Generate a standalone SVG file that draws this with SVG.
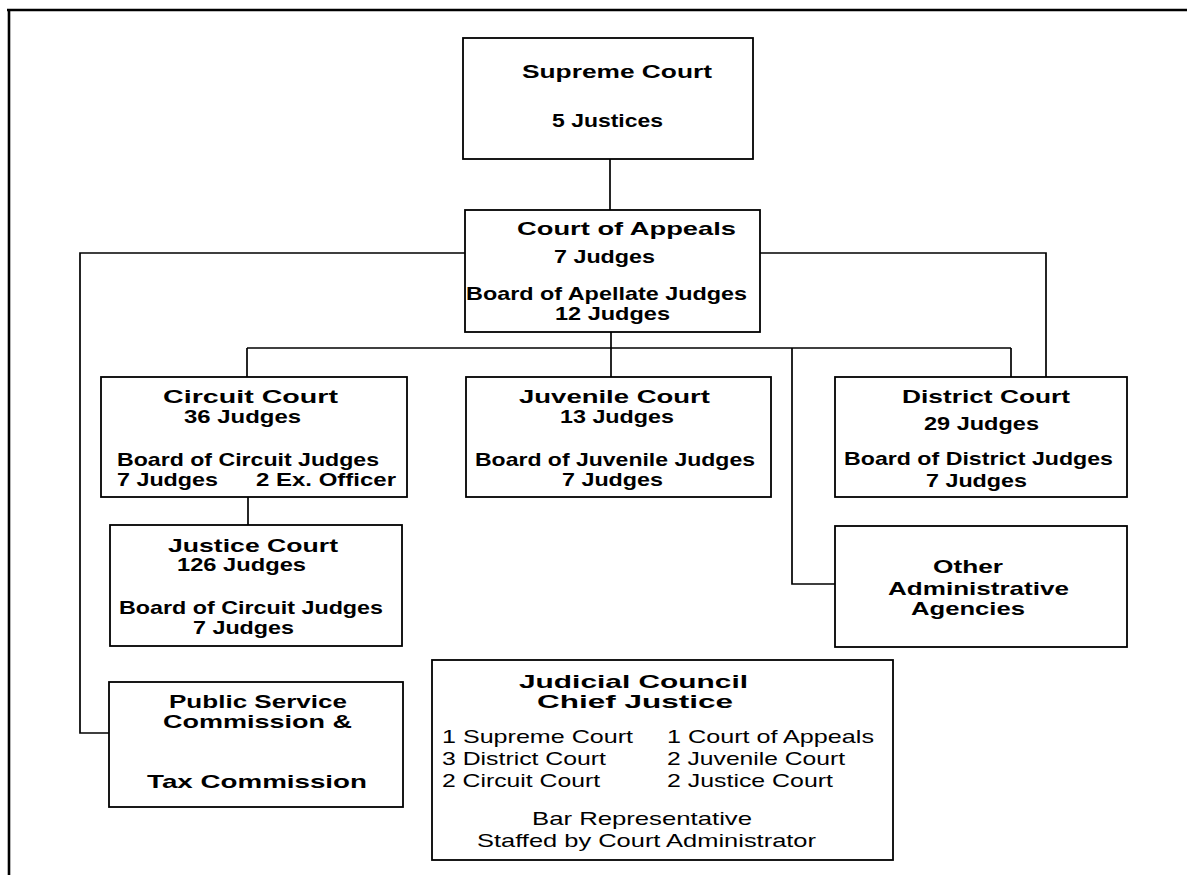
<svg xmlns="http://www.w3.org/2000/svg" width="1187" height="875" viewBox="0 0 1187 875">
<style>
  .box { fill: #ffffff; stroke: #000000; stroke-width: 1.8; }
  .conn { fill: none; stroke: #000000; stroke-width: 1.7; }
  text { font-family: "Liberation Sans", Arial, sans-serif; font-size: 19px; fill: #000000; }
  .b { font-weight: bold; }
</style>
<rect width="1187" height="875" fill="#ffffff"/>
<g id="frame">
  <line x1="7" y1="10" x2="1187" y2="10" stroke="#000" stroke-width="2.6"/>
  <line x1="9" y1="9" x2="9" y2="875" stroke="#000" stroke-width="2.6"/>
</g>
<g id="connectors">
  <line class="conn" x1="610" y1="159" x2="610" y2="210"/>
  <polyline class="conn" points="465,253 80,253 80,733 109,733"/>
  <polyline class="conn" points="760,253 1046,253 1046,377"/>
  <line class="conn" x1="611" y1="332" x2="611" y2="377"/>
  <line class="conn" x1="247" y1="348" x2="1011" y2="348"/>
  <line class="conn" x1="247" y1="348" x2="247" y2="377"/>
  <line class="conn" x1="1011" y1="348" x2="1011" y2="377"/>
  <polyline class="conn" points="792,348 792,584 835,584"/>
  <line class="conn" x1="248" y1="497" x2="248" y2="525"/>
</g>
<g id="supreme-court">
  <rect class="box" x="463" y="38" width="290" height="121"/>
  <text class="b" x="522" y="78" textLength="190" lengthAdjust="spacingAndGlyphs">Supreme Court</text>
  <text class="b" x="552" y="127" textLength="111" lengthAdjust="spacingAndGlyphs">5 Justices</text>
</g>
<g id="court-of-appeals">
  <rect class="box" x="465" y="210" width="295" height="122"/>
  <text class="b" x="517" y="235" textLength="219" lengthAdjust="spacingAndGlyphs">Court of Appeals</text>
  <text class="b" x="554" y="263" textLength="101" lengthAdjust="spacingAndGlyphs">7 Judges</text>
  <text class="b" x="466" y="300" textLength="281" lengthAdjust="spacingAndGlyphs">Board of Apellate Judges</text>
  <text class="b" x="555" y="320" textLength="115" lengthAdjust="spacingAndGlyphs">12 Judges</text>
</g>
<g id="circuit-court">
  <rect class="box" x="101" y="377" width="306" height="120"/>
  <text class="b" x="163" y="403" textLength="175" lengthAdjust="spacingAndGlyphs">Circuit  Court</text>
  <text class="b" x="184" y="423" textLength="117" lengthAdjust="spacingAndGlyphs">36 Judges</text>
  <text class="b" x="117" y="466" textLength="262" lengthAdjust="spacingAndGlyphs">Board of Circuit Judges</text>
  <text class="b" x="117" y="486" textLength="101" lengthAdjust="spacingAndGlyphs">7 Judges</text>
  <text class="b" x="256" y="486" textLength="140" lengthAdjust="spacingAndGlyphs">2 Ex. Officer</text>
</g>
<g id="juvenile-court">
  <rect class="box" x="466" y="377" width="305" height="120"/>
  <text class="b" x="519" y="403" textLength="191" lengthAdjust="spacingAndGlyphs">Juvenile Court</text>
  <text class="b" x="560" y="423" textLength="114" lengthAdjust="spacingAndGlyphs">13 Judges</text>
  <text class="b" x="475" y="466" textLength="280" lengthAdjust="spacingAndGlyphs">Board of Juvenile Judges</text>
  <text class="b" x="562" y="486" textLength="101" lengthAdjust="spacingAndGlyphs">7 Judges</text>
</g>
<g id="district-court">
  <rect class="box" x="835" y="377" width="292" height="120"/>
  <text class="b" x="902" y="403" textLength="168" lengthAdjust="spacingAndGlyphs">District Court</text>
  <text class="b" x="924" y="430" textLength="115" lengthAdjust="spacingAndGlyphs">29 Judges</text>
  <text class="b" x="844" y="465" textLength="269" lengthAdjust="spacingAndGlyphs">Board of District Judges</text>
  <text class="b" x="926" y="487" textLength="101" lengthAdjust="spacingAndGlyphs">7 Judges</text>
</g>
<g id="justice-court">
  <rect class="box" x="110" y="525" width="292" height="121"/>
  <text class="b" x="168" y="552" textLength="170" lengthAdjust="spacingAndGlyphs">Justice Court</text>
  <text class="b" x="177" y="571" textLength="129" lengthAdjust="spacingAndGlyphs">126 Judges</text>
  <text class="b" x="119" y="614" textLength="264" lengthAdjust="spacingAndGlyphs">Board of Circuit Judges</text>
  <text class="b" x="193" y="634" textLength="101" lengthAdjust="spacingAndGlyphs">7 Judges</text>
</g>
<g id="other-agencies">
  <rect class="box" x="835" y="526" width="292" height="121"/>
  <text class="b" x="933" y="573" textLength="70" lengthAdjust="spacingAndGlyphs">Other</text>
  <text class="b" x="888" y="595" textLength="181" lengthAdjust="spacingAndGlyphs">Administrative</text>
  <text class="b" x="911" y="615" textLength="114" lengthAdjust="spacingAndGlyphs">Agencies</text>
</g>
<g id="public-service-commission">
  <rect class="box" x="109" y="682" width="294" height="125"/>
  <text class="b" x="169" y="708" textLength="178" lengthAdjust="spacingAndGlyphs">Public Service</text>
  <text class="b" x="163" y="728" textLength="189" lengthAdjust="spacingAndGlyphs">Commission  &amp;</text>
  <text class="b" x="147" y="788" textLength="220" lengthAdjust="spacingAndGlyphs">Tax Commission</text>
</g>
<g id="judicial-council">
  <rect class="box" x="432" y="660" width="461" height="200"/>
  <text class="b" x="519" y="688" textLength="229" lengthAdjust="spacingAndGlyphs">Judicial Council</text>
  <text class="b" x="537" y="708" textLength="196" lengthAdjust="spacingAndGlyphs">Chief Justice</text>
  <text x="442" y="743" textLength="191" lengthAdjust="spacingAndGlyphs">1 Supreme Court</text>
  <text x="667" y="743" textLength="207" lengthAdjust="spacingAndGlyphs">1 Court of Appeals</text>
  <text x="442" y="765" textLength="164" lengthAdjust="spacingAndGlyphs">3 District Court</text>
  <text x="667" y="765" textLength="178" lengthAdjust="spacingAndGlyphs">2 Juvenile Court</text>
  <text x="442" y="787" textLength="158" lengthAdjust="spacingAndGlyphs">2 Circuit Court</text>
  <text x="667" y="787" textLength="166" lengthAdjust="spacingAndGlyphs">2 Justice Court</text>
  <text x="532" y="825" textLength="220" lengthAdjust="spacingAndGlyphs">Bar Representative</text>
  <text x="477" y="847" textLength="339" lengthAdjust="spacingAndGlyphs">Staffed by Court Administrator</text>
</g>
</svg>
